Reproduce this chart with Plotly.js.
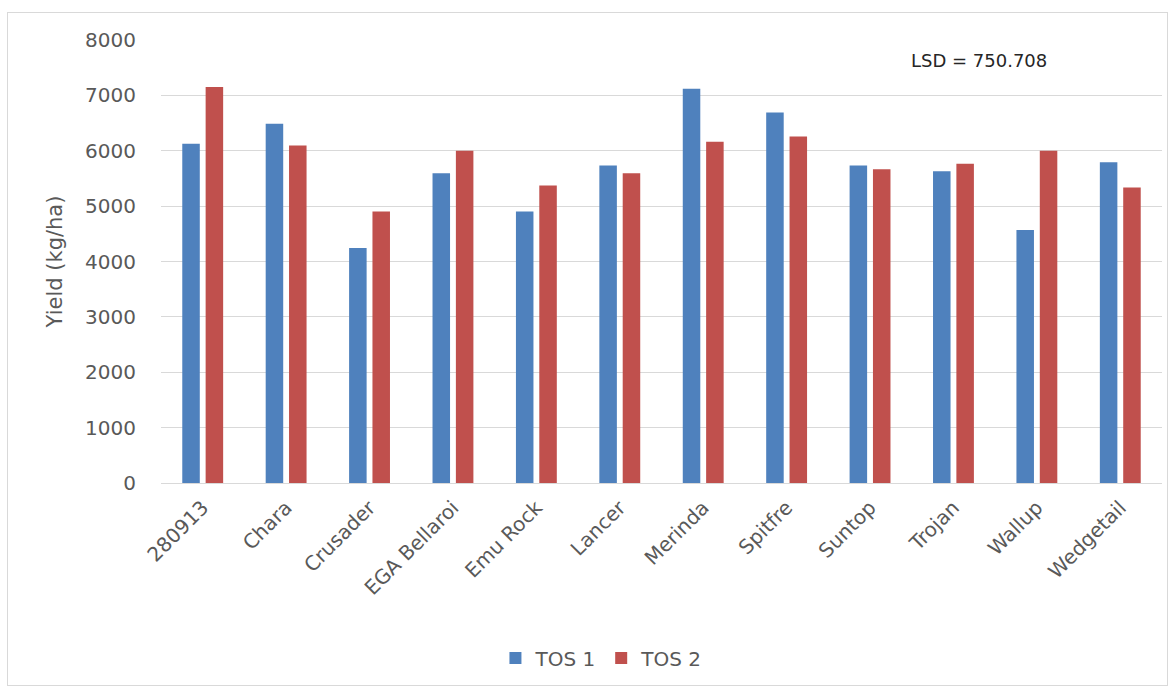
<!DOCTYPE html>
<html>
<head>
<meta charset="utf-8">
<script src="https://cdn.plot.ly/plotly-3.0.1.min.js"></script>
<style>
  html, body { margin: 0; padding: 0; background: #fff; }
  #wrap { position: relative; width: 1173px; height: 689px; }
  #chart { position: absolute; left: 0; top: 0; width: 1173px; height: 689px; }
  #frame { position: absolute; left: 7px; top: 12px; width: 1159px; height: 672px; border: 1px solid #d9d9d9; pointer-events: none; }
</style>
</head>
<body>
<div id="wrap"><div id="chart"></div><div id="frame"></div></div>
<script>
const categories = ["280913", "Chara", "Crusader", "EGA Bellaroi", "Emu Rock", "Lancer", "Merinda", "Spitfre", "Suntop", "Trojan", "Wallup", "Wedgetail"];
const tos1 = [6125, 6486, 4246, 5595, 4902, 5733, 7118, 6691, 5733, 5631, 4571, 5793];
const tos2 = [7149, 6094, 4902, 5998, 5372, 5595, 6161, 6257, 5667, 5763, 5998, 5336];
const seriesNames = ["TOS 1", "TOS 2"];
const yTicks = [0, 1000, 2000, 3000, 4000, 5000, 6000, 7000, 8000];
const lsdText = "LSD = 750.708";

const fontFam = "'DejaVu Sans', sans-serif";

const traces = [
  { type: "bar", name: seriesNames[0], x: categories, y: tos1, marker: { color: "#4F81BD" } },
  { type: "bar", name: seriesNames[1], x: categories, y: tos2, marker: { color: "#C0504D" } }
];

const layout = {
  width: 1173, height: 689,
  margin: { l: 161, r: 11, t: 40, b: 206 },
  paper_bgcolor: "#ffffff", plot_bgcolor: "#ffffff",
  font: { family: fontFam, size: 19, color: "#595959" },
  barmode: "group",
  bargap: 0.44,
  bargroupgap: 0.25,
  showlegend: true,
  legend: {
    orientation: "h", x: 0.44, xanchor: "center", y: -0.395, yanchor: "middle",
    font: { family: fontFam, size: 20, color: "#595959" }, traceorder: "normal"
  },
  xaxis: {
    type: "category", tickangle: -45, showgrid: false, zeroline: false,
    showline: false, ticks: "", automargin: false, ticklabelstandoff: 8,
    tickfont: { family: fontFam, size: 20, color: "#595959" }
  },
  yaxis: {
    range: [0, 8000], tickvals: yTicks, ticktext: yTicks.map(String),
    showgrid: true, gridcolor: "#d9d9d9", gridwidth: 1,
    zeroline: true, zerolinecolor: "#d9d9d9", zerolinewidth: 1,
    showline: false, ticks: "", ticklabelstandoff: 24, automargin: false,
    tickfont: { family: fontFam, size: 20, color: "#595959" },
    title: { text: "Yield (kg/ha)", font: { family: fontFam, size: 21, color: "#595959" }, standoff: 16 }
  },
  annotations: [
    { text: lsdText, xref: "paper", yref: "paper", x: 0.817, y: 0.953, xanchor: "center", yanchor: "middle",
      showarrow: false, font: { family: fontFam, size: 18, color: "#262626" } }
  ]
};

Plotly.newPlot("chart", traces, layout, { displayModeBar: false, staticPlot: true });
</script>
</body>
</html>
